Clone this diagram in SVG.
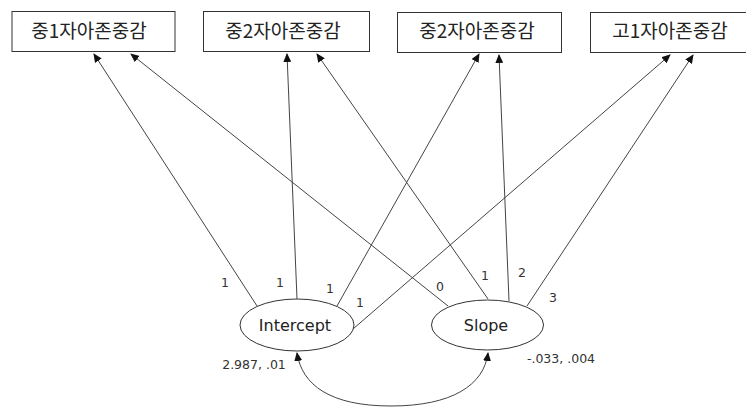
<svg xmlns="http://www.w3.org/2000/svg" width="746" height="407" viewBox="0 0 746 407">
<defs>
<marker id="ah" markerWidth="9" markerHeight="8" refX="8" refY="4" orient="auto" markerUnits="userSpaceOnUse">
<path d="M0,0 L9,4 L0,8 Z" fill="#111"/>
</marker>
<style>
.box{fill:#fff;stroke:#333;stroke-width:1}
.ell{fill:#fff;stroke:#333;stroke-width:1}
.kt{font-family:"Noto Sans CJK KR","Noto Sans",sans-serif;font-size:19px;fill:#222;text-anchor:middle}
.nt{font-family:"DejaVu Sans",sans-serif;font-size:16px;fill:#222;text-anchor:middle}
.lb{font-family:"DejaVu Sans",sans-serif;font-size:12.5px;fill:#333;text-anchor:middle}
.ln{stroke:#444;stroke-width:1;fill:none;marker-end:url(#ah)}
</style>
</defs>
<rect width="746" height="407" fill="#fff"/>
<g id="box1"><rect class="box" x="12" y="11.5" width="163" height="40"/><text class="kt" x="89" y="38">중1자아존중감</text></g>
<g id="box2"><rect class="box" x="203.5" y="11.5" width="166" height="40"/><text class="kt" x="283" y="38">중2자아존중감</text></g>
<g id="box3"><rect class="box" x="397.5" y="12.5" width="164" height="40"/><text class="kt" x="477" y="38">중2자아존중감</text></g>
<g id="box4"><rect class="box" x="590.5" y="12.5" width="170" height="40"/><text class="kt" x="670" y="38">고1자아존중감</text></g>
<g id="intercept"><ellipse class="ell" cx="297" cy="325" rx="57" ry="26"/><text class="nt" x="295" y="331">Intercept</text></g>
<g id="slope"><ellipse class="ell" cx="487.5" cy="325" rx="56" ry="25"/><text class="nt" x="486" y="331">Slope</text></g>
<g id="connectors">
<line class="ln" x1="257" y1="306" x2="94" y2="54"/>
<line class="ln" x1="297" y1="299" x2="287" y2="54"/>
<line class="ln" x1="337" y1="306" x2="479" y2="54"/>
<line class="ln" x1="353" y1="329" x2="670" y2="55"/>
<line class="ln" x1="448" y1="306" x2="131" y2="54"/>
<line class="ln" x1="488" y1="299" x2="317" y2="54"/>
<line class="ln" x1="509" y1="301" x2="499" y2="55"/>
<line class="ln" x1="527" y1="306" x2="693" y2="55"/>
<path class="ln" d="M391,406 C330,406 302,385 297,353" />
<path class="ln" d="M391,406 C452,406 484,385 488,353" />
</g>
<g id="labels">
<text class="lb" x="225" y="287">1</text>
<text class="lb" x="280" y="287">1</text>
<text class="lb" x="330" y="293">1</text>
<text class="lb" x="360" y="307">1</text>
<text class="lb" x="440" y="291">0</text>
<text class="lb" x="485" y="280">1</text>
<text class="lb" x="522" y="277">2</text>
<text class="lb" x="553" y="302">3</text>
<text class="lb" x="254" y="369">2.987, .01</text>
<text class="lb" x="561" y="363">-.033, .004</text>
</g>
</svg>
